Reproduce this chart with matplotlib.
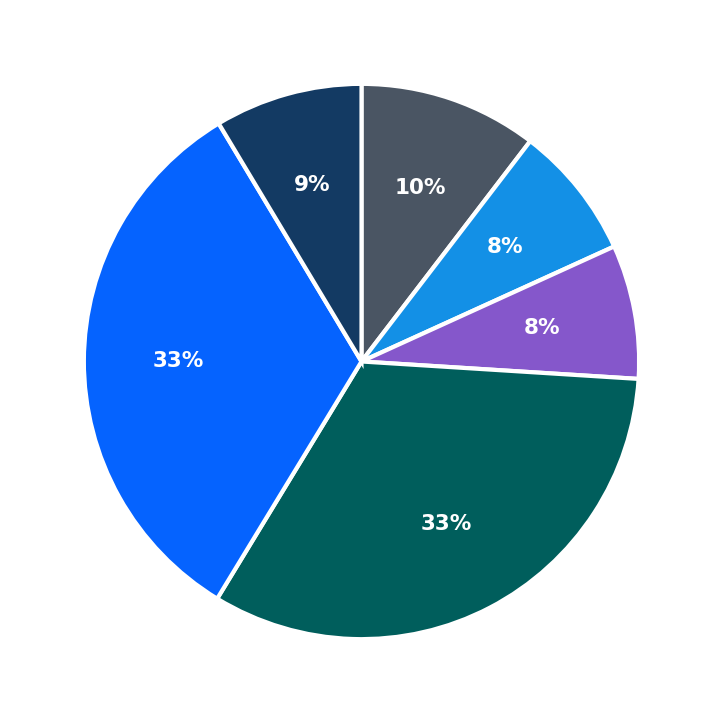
import matplotlib
matplotlib.use("Agg")
import matplotlib.pyplot as plt

labels = ["A", "B", "C", "D", "E", "F"]
values = [10.4, 7.8, 7.8, 32.7, 32.7, 8.6]
colors = ["#4a5563", "#1390e6", "#8557cb", "#005e5c", "#0563ff", "#133a63"]

fig = plt.figure(figsize=(7.23, 7.23), dpi=100)
ax = fig.add_axes([0.02, 0.02, 0.96, 0.96])
wedges, texts, autotexts = ax.pie(
    values, colors=colors, startangle=90, counterclock=False,
    autopct="%.0f%%", pctdistance=0.66,
    wedgeprops=dict(edgecolor="white", linewidth=3),
    textprops=dict(color="white", fontsize=15.5, fontweight="bold"))
ax.set_aspect("equal")
fig.savefig("out.png", dpi=100)
